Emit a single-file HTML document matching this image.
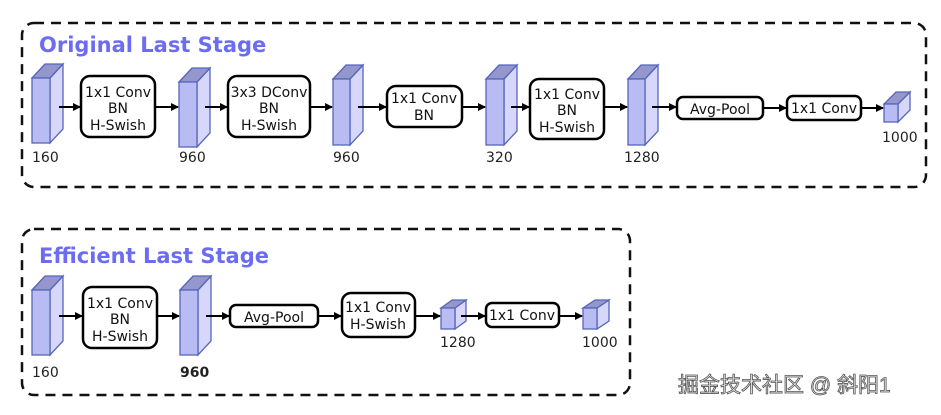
<!DOCTYPE html>
<html><head><meta charset="utf-8"><style>
html,body{margin:0;padding:0;background:#fff;}
svg{display:block}
text{font-family:"DejaVu Sans","Liberation Sans",sans-serif;}
.b{fill:#fff;stroke:#000;stroke-width:2.5}
.t{font-size:14px;text-anchor:middle;fill:#111}
.l{font-size:14px;fill:#222}
.a{stroke:#000;stroke-width:2;marker-end:url(#ah)}
.f{fill:#b9bcf3;stroke:#5566bb;stroke-width:1.3}
.s{fill:#d6d7fa;stroke:#5566bb;stroke-width:1.3}
.p{fill:#9496cc;stroke:#5566bb;stroke-width:1.3}
.ttl{font-size:21px;font-weight:bold;fill:#6c6cf2}
</style></head><body>
<svg width="941" height="415" viewBox="0 0 941 415" xmlns="http://www.w3.org/2000/svg">
<defs><marker id="ah" markerWidth="8" markerHeight="8" refX="7" refY="4" orient="auto" markerUnits="userSpaceOnUse"><path d="M0,0 L8,4 L0,8 z" fill="#000"/></marker></defs>
<rect x="22" y="23" width="904" height="164" rx="12" fill="none" stroke="#111" stroke-width="2.5" stroke-dasharray="10,7"/>
<rect x="22" y="229" width="608" height="166" rx="12" fill="none" stroke="#111" stroke-width="2.5" stroke-dasharray="10,7"/>
<text class="ttl" x="39" y="52">Original Last Stage</text>
<text class="ttl" x="39" y="263">Efficient Last Stage</text>

<polygon class="s" points="50,78 63,64 63,129 50,143"/><polygon class="p" points="32,78 45,64 63,64 50,78"/><rect class="f" x="32" y="78" width="18" height="65"/>
<polygon class="s" points="197,82 210,68 210,133 197,147"/><polygon class="p" points="179,82 192,68 210,68 197,82"/><rect class="f" x="179" y="82" width="18" height="65"/>
<polygon class="s" points="350,79 363,65 363,131 350,145"/><polygon class="p" points="333,79 346,65 363,65 350,79"/><rect class="f" x="333" y="79" width="17" height="66"/>
<polygon class="s" points="504,79 517,65 517,131 504,145"/><polygon class="p" points="486,79 499,65 517,65 504,79"/><rect class="f" x="486" y="79" width="18" height="66"/>
<polygon class="s" points="645,79 658,65 658,131 645,145"/><polygon class="p" points="628,79 641,65 658,65 645,79"/><rect class="f" x="628" y="79" width="17" height="66"/>
<polygon class="s" points="898,104 910,92 910,110 898,122"/><polygon class="p" points="884,104 896,92 910,92 898,104"/><rect class="f" x="884" y="104" width="14" height="18"/>
<text class="l" x="32" y="162">160</text>
<text class="l" x="179" y="162">960</text>
<text class="l" x="333" y="162">960</text>
<text class="l" x="486" y="162">320</text>
<text class="l" x="624" y="162">1280</text>
<text class="l" x="882" y="142">1000</text>

<rect class="b" x="81" y="76" width="74" height="61" rx="9"/>
<text class="t" x="118" y="97">1x1 Conv</text><text class="t" x="118" y="113">BN</text><text class="t" x="118" y="130">H-Swish</text>
<rect class="b" x="228" y="76" width="82" height="61" rx="9"/>
<text class="t" x="269" y="97">3x3 DConv</text><text class="t" x="269" y="113">BN</text><text class="t" x="269" y="130">H-Swish</text>
<rect class="b" x="387" y="86" width="75" height="41" rx="9"/>
<text class="t" x="424" y="103">1x1 Conv</text><text class="t" x="424" y="120">BN</text>
<rect class="b" x="530" y="79" width="74" height="60" rx="9"/>
<text class="t" x="567" y="99">1x1 Conv</text><text class="t" x="567" y="115">BN</text><text class="t" x="567" y="132">H-Swish</text>
<rect class="b" x="677" y="97" width="86" height="22" rx="6"/>
<text class="t" x="720" y="114">Avg-Pool</text>
<rect class="b" x="787" y="96" width="74" height="24" rx="6"/>
<text class="t" x="824" y="113">1x1 Conv</text>

<line class="a" x1="59" y1="107" x2="80" y2="107"/>
<line class="a" x1="155" y1="107" x2="178" y2="107"/>
<line class="a" x1="205" y1="107" x2="227" y2="107"/>
<line class="a" x1="310" y1="107" x2="332" y2="107"/>
<line class="a" x1="358" y1="107" x2="386" y2="107"/>
<line class="a" x1="462" y1="107" x2="485" y2="107"/>
<line class="a" x1="511" y1="107" x2="529" y2="107"/>
<line class="a" x1="604" y1="107" x2="627" y2="107"/>
<line class="a" x1="652" y1="107" x2="676" y2="107"/>
<line class="a" x1="763" y1="108" x2="786" y2="108"/>
<line class="a" x1="861" y1="108" x2="883" y2="108"/>

<polygon class="s" points="50,290 63,276 63,341 50,355"/><polygon class="p" points="32,290 45,276 63,276 50,290"/><rect class="f" x="32" y="290" width="18" height="65"/>
<polygon class="s" points="198,290 211,276 211,341 198,355"/><polygon class="p" points="180,290 193,276 211,276 198,290"/><rect class="f" x="180" y="290" width="18" height="65"/>
<polygon class="s" points="455,308 466,300 466,321 455,329"/><polygon class="p" points="441,308 452,300 466,300 455,308"/><rect class="f" x="441" y="308" width="14" height="21"/>
<polygon class="s" points="597,308 609,300 609,321 597,329"/><polygon class="p" points="583,308 595,300 609,300 597,308"/><rect class="f" x="583" y="308" width="14" height="21"/>
<text class="l" x="32" y="377">160</text>
<text class="l" x="180" y="377" font-weight="bold">960</text>
<text class="l" x="440" y="347">1280</text>
<text class="l" x="582" y="347">1000</text>

<rect class="b" x="83" y="287" width="74" height="61" rx="9"/>
<text class="t" x="120" y="308">1x1 Conv</text><text class="t" x="120" y="324">BN</text><text class="t" x="120" y="341">H-Swish</text>
<rect class="b" x="230" y="305" width="88" height="22" rx="6"/>
<text class="t" x="274" y="322">Avg-Pool</text>
<rect class="b" x="342" y="293" width="73" height="44" rx="9"/>
<text class="t" x="378" y="312">1x1 Conv</text><text class="t" x="378" y="329">H-Swish</text>
<rect class="b" x="486" y="303" width="73" height="24" rx="6"/>
<text class="t" x="522" y="320">1x1 Conv</text>

<line class="a" x1="59" y1="316" x2="82" y2="316"/>
<line class="a" x1="157" y1="316" x2="179" y2="316"/>
<line class="a" x1="206" y1="316" x2="229" y2="316"/>
<line class="a" x1="318" y1="316" x2="341" y2="316"/>
<line class="a" x1="415" y1="316" x2="440" y2="316"/>
<line class="a" x1="461" y1="316" x2="485" y2="316"/>
<line class="a" x1="559" y1="316" x2="582" y2="316"/>

<text x="678" y="392" font-size="21" fill="#e6e6e6" stroke="#555" stroke-width="0.8" style="font-family:'Liberation Sans','Noto Sans CJK SC',sans-serif">掘金技术社区 @ 斜阳1</text>
</svg>
</body></html>
